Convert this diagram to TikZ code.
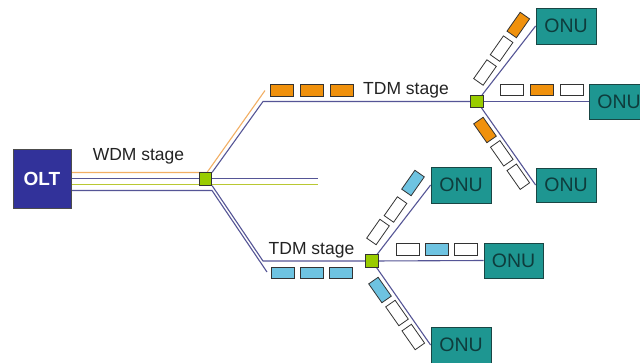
\documentclass[tikz,border=0pt]{standalone}
\usepackage{fontspec}
\setmainfont{Liberation Sans}
\usetikzlibrary{calc,backgrounds}
\definecolor{oltblue}{RGB}{50,50,154}
\definecolor{onuteal}{RGB}{30,150,145}
\definecolor{onuedge}{RGB}{25,70,68}
\definecolor{onutext}{RGB}{14,60,60}
\definecolor{pkorange}{RGB}{240,145,12}
\definecolor{pkblue}{RGB}{110,195,225}
\definecolor{splgreen}{RGB}{153,204,0}
\definecolor{fibblue}{RGB}{85,85,150}
\definecolor{fiborange}{RGB}{242,175,100}
\definecolor{fibgreen}{RGB}{185,200,50}
\definecolor{txtgray}{RGB}{35,35,35}
\begin{document}
\begin{tikzpicture}[x=1pt,y=-1pt,
  oltbox/.style={draw=black!70,fill=oltblue,text=white,minimum width=58pt,minimum height=59pt,inner sep=0pt,font=\fontsize{19}{19}\selectfont\bfseries},
  onubox/.style={draw=onuedge,line width=0.8pt,fill=onuteal,text=onutext,minimum width=60pt,minimum height=36pt,inner sep=0pt,font=\fontsize{19.5}{19.5}\selectfont},
  splbox/.style={draw=black!80,line width=0.7pt,fill=splgreen,minimum size=12.5pt,inner sep=0pt},
  pkt/.style={draw=black!80,line width=0.8pt,minimum width=23pt,minimum height=11.5pt,inner sep=0pt},
  pkO/.style={pkt,fill=pkorange},
  pkB/.style={pkt,fill=pkblue},
  pkW/.style={pkt,fill=white},
  stagelbl/.style={anchor=base,text=txtgray,inner sep=0pt,font=\fontsize{17.5}{17.5}\selectfont},
  fib/.style={line width=1.1pt,draw=fibblue},
]
\useasboundingbox (0,0) rectangle (640,362);

% main nodes
\node[oltbox] (olt) at (42,178.5) {OLT};
\node[splbox] (w) at (205.5,179) {};
\node[splbox] (s1) at (477,101.5) {};
\node[splbox] (s2) at (372,261) {};

\node[onubox] (onuA) at (566,26) {ONU};
\node[onubox,minimum height=35pt] (onuB) at (619,101.5) {ONU};
\node[onubox,minimum height=34pt] (onuC) at (566,185) {ONU};
\node[onubox] (onuD) at (461,185) {ONU};
\node[onubox,minimum width=59pt,minimum height=35pt] (onuE) at (513.5,260.5) {ONU};
\node[onubox] (onuF) at (461,345) {ONU};

% labels
\node[stagelbl] (lw) at (138.5,160.5) {WDM stage};
\node[stagelbl] (lt1) at (406,94.3) {TDM stage};
\node[stagelbl] (lt2) at (311.5,254) {TDM stage};

% packets: upper TDM stage
\node[pkO] (u1) at (282,90.2) {};
\node[pkO] (u2) at (311.7,90.2) {};
\node[pkO] (u3) at (341.7,90.2) {};
% packets: lower TDM stage
\node[pkB] (l1) at (282.5,273) {};
\node[pkB] (l2) at (311.7,273) {};
\node[pkB] (l3) at (341.3,273) {};

% upper group branches
\node[pkW,rotate=55] (a1) at (485,72.5) {};
\node[pkW,rotate=55] (a2) at (501.6,48.6) {};
\node[pkO,rotate=55] (a3) at (518.3,25) {};
\node[pkW] (b1) at (512,90) {};
\node[pkO] (b2) at (542,90) {};
\node[pkW] (b3) at (572,90) {};
\node[pkO,rotate=-55] (c1) at (485,130) {};
\node[pkW,rotate=-55] (c2) at (501.8,153.3) {};
\node[pkW,rotate=-55] (c3) at (518.3,176.7) {};

% lower group branches
\node[pkW,rotate=55] (d1) at (378,232) {};
\node[pkW,rotate=55] (d2) at (395.5,209.5) {};
\node[pkB,rotate=55] (d3) at (413,183) {};
\node[pkW] (e1) at (407.7,249.3) {};
\node[pkB] (e2) at (436.7,249.3) {};
\node[pkW] (e3) at (466,249.3) {};
\node[pkB,rotate=-55] (f1) at (380,290) {};
\node[pkW,rotate=-55] (f2) at (397,313) {};
\node[pkW,rotate=-55] (f3) at (413.3,337) {};

% fibre end / bend coordinates
\coordinate (oBend) at (207,172.5);
\coordinate (oEnd) at (265,90.5);
\coordinate (tBend) at (263,101.5);
\coordinate (mEnd) at (318,178.5);
\coordinate (gEnd) at (318,184.5);
\coordinate (bBend) at (212,190.5);
\coordinate (bEnd) at (267,272);
\coordinate (lBend) at (263,261);

\begin{scope}[on background layer]
  \fill[white] (0,0) rectangle (640,362);
  % WDM stage fibres
  \draw[line width=1.1pt,draw=fiborange] ($(olt.east)+(0,-6)$) -- (oBend) -- (oEnd);
  \draw[fib] (olt.east) -- (mEnd);
  \draw[line width=1.1pt,draw=fibgreen] ($(olt.east)+(0,6)$) -- (gEnd);
  \draw[fib] ($(olt.east)+(0,12)$) -- (bBend) -- (bEnd);
  \draw[fib] (w.north east) -- (tBend) -- (s1);
  \draw[fib] (w.south east) -- (lBend) -- (s2);
  % TDM drops
  \draw[fib] (s1) -- (onuA.west);
  \draw[fib] (s1) -- (onuB.west);
  \draw[fib] (s1) -- (onuC.west);
  \draw[fib] (s2) -- (onuD.west);
  \draw[fib] (s2) -- (onuE.west);
  \draw[fib] (s2) -- (onuF.west);
\end{scope}
\end{tikzpicture}
\end{document}
